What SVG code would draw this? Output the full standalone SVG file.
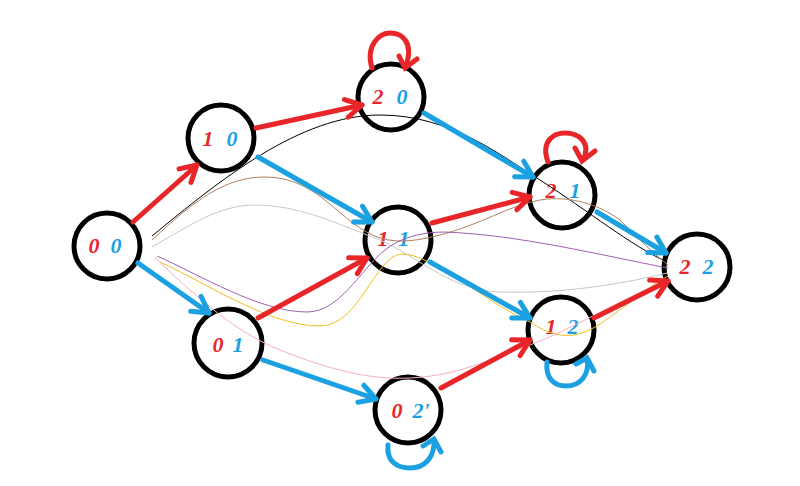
<svg xmlns="http://www.w3.org/2000/svg" width="800" height="486" viewBox="0 0 800 486">
<style>
.node{fill:#fff;stroke:#000;stroke-width:5}
.r{fill:#e8262a}
.b{fill:#1ba1e2}
text{font-family:"Liberation Serif",serif;font-size:22px;font-weight:bold;font-style:italic;text-anchor:middle}
.ra{stroke:#e8262a;stroke-width:5;fill:none;stroke-linecap:round}
.ba{stroke:#1ba1e2;stroke-width:5;fill:none;stroke-linecap:round}
.thin{fill:none;stroke-width:1}
</style>
<defs>
<marker id="mr" viewBox="0 0 24 24" refX="20" refY="12" markerWidth="24" markerHeight="24" markerUnits="userSpaceOnUse" orient="auto">
<path d="M4,3 L20,12 L4,21" fill="none" stroke="#e8262a" stroke-width="5" stroke-linecap="round" stroke-linejoin="round"/>
</marker>
<marker id="mb" viewBox="0 0 24 24" refX="20" refY="12" markerWidth="24" markerHeight="24" markerUnits="userSpaceOnUse" orient="auto">
<path d="M4,3 L20,12 L4,21" fill="none" stroke="#1ba1e2" stroke-width="5" stroke-linecap="round" stroke-linejoin="round"/>
</marker>
</defs>
<rect width="800" height="486" fill="#fff"/>
<g id="nodes">
<g id="n00"><circle class="node" cx="107" cy="246" r="33"/><text x="94" y="253" class="r">0</text><text x="116" y="253" class="b">0</text></g>
<g id="n10"><circle class="node" cx="221" cy="138" r="33"/><text x="208" y="146" class="r">1</text><text x="232" y="146" class="b">0</text></g>
<g id="n20"><circle class="node" cx="391" cy="97" r="33"/><text x="378" y="104" class="r">2</text><text x="402" y="104" class="b">0</text></g>
<g id="n11"><circle class="node" cx="398" cy="240" r="33"/><text x="383" y="246" class="r">1</text><text x="404" y="246" class="b">1</text></g>
<g id="n21"><circle class="node" cx="562" cy="195" r="33"/><text x="551" y="198" class="r">2</text><text x="575" y="198" class="b">1</text></g>
<g id="n12"><circle class="node" cx="561" cy="330" r="33"/><text x="551" y="334" class="r">1</text><text x="573" y="334" class="b">2</text></g>
<g id="n22"><circle class="node" cx="697" cy="267" r="33"/><text x="685" y="274" class="r">2</text><text x="708" y="274" class="b">2</text></g>
<g id="n01"><circle class="node" cx="228" cy="343" r="34"/><text x="218" y="352" class="r">0</text><text x="238" y="352" class="b">1</text></g>
<g id="n02"><circle class="node" cx="408" cy="410" r="33"/><text x="397" y="418" class="r">0</text><text x="421" y="418" class="b">2'</text></g>
</g>
<g id="connectors">
<path class="thin" stroke="#000" d="M152,236 C220,180 300,115 380,115 C450,115 500,155 540,180 C590,212 630,245 667,262"/>
<path class="thin" stroke="#b08060" d="M152,240 C195,200 225,177 265,177 C320,177 340,225 380,238 C400,244 420,240 440,235 C480,225 510,205 540,200 C570,195 600,205 620,220 C640,240 655,255 668,265"/>
<path class="thin" stroke="#c8c8c8" d="M152,247 C190,225 220,205 255,205 C300,205 340,225 380,240 C420,258 450,290 500,292 C570,294 630,282 667,273"/>
<path class="thin" stroke="#a060b0" d="M157,256 C200,275 260,312 307,312 C340,312 360,270 385,250 C400,238 420,232 445,232 C520,235 600,255 668,268"/>
<path class="thin" stroke="#f0c020" d="M160,262 C210,285 270,326 320,326 C360,326 375,255 402,254 C430,253 490,305 530,322 C550,335 570,342 595,327 C620,312 650,285 668,276"/>
<path class="thin" stroke="#f4b0c0" d="M155,258 C190,290 230,330 280,350 C330,370 370,380 410,378 C460,376 500,355 530,345 C570,330 620,300 668,280"/>
<line class="ra" x1="133" y1="222" x2="197" y2="165" marker-end="url(#mr)"/>
<line class="ra" x1="256" y1="128" x2="362" y2="105" marker-end="url(#mr)"/>
<line class="ra" x1="258" y1="318" x2="367" y2="258" marker-end="url(#mr)"/>
<line class="ra" x1="432" y1="223" x2="530" y2="197" marker-end="url(#mr)"/>
<line class="ra" x1="441" y1="388" x2="530" y2="340" marker-end="url(#mr)"/>
<line class="ra" x1="594" y1="318" x2="668" y2="281" marker-end="url(#mr)"/>
<line class="ba" x1="138" y1="263" x2="209" y2="313" marker-end="url(#mb)"/>
<line class="ba" x1="258" y1="157" x2="372" y2="222" marker-end="url(#mb)"/>
<line class="ba" x1="424" y1="113" x2="533" y2="177" marker-end="url(#mb)"/>
<line class="ba" x1="430" y1="262" x2="530" y2="318" marker-end="url(#mb)"/>
<line class="ba" x1="597" y1="212" x2="666" y2="253" marker-end="url(#mb)"/>
<line class="ba" x1="263" y1="360" x2="376" y2="399" marker-end="url(#mb)"/>
<path class="ra" d="M372,68 C365,45 380,33 390,33 C402,33 414,42 406,66"/>
<path class="ra" d="M399,56 L405,68 L417,59"/>
<path class="ra" d="M548,162 C540,140 555,133 565,133 C578,133 592,142 583,160"/>
<path class="ra" d="M575,148 L582,161 L595,151"/>
<path class="ba" d="M547,362 C545,380 556,386 566,386 C580,386 590,375 587,359"/>
<path class="ba" d="M576,364 L587,358 L594,371"/>
<path class="ba" d="M388,445 C386,462 398,468 410,468 C424,468 435,458 434,440"/>
<path class="ba" d="M423,446 L434,439 L441,452"/>
</g>
</svg>
